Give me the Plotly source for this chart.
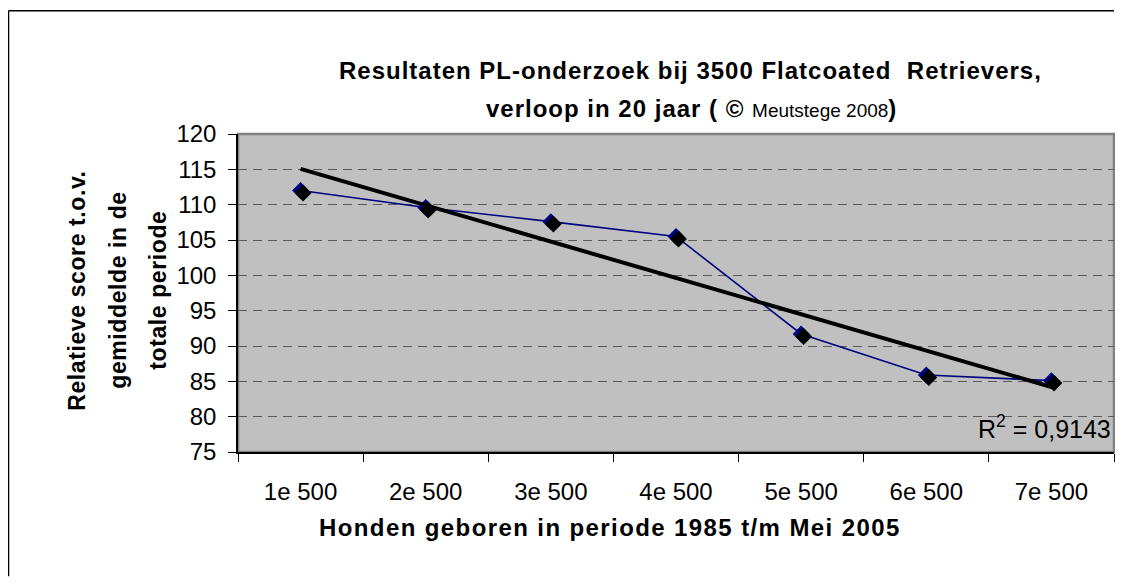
import numpy as np
import plotly.graph_objects as go

# ---- data ----
categories = ["1e 500", "2e 500", "3e 500", "4e 500", "5e 500", "6e 500", "7e 500"]
scores = [112.0, 109.6, 107.6, 105.5, 91.7, 85.9, 85.1]
r2_text = "R<sup>2</sup> = 0,9143"
y_ticks = [75, 80, 85, 90, 95, 100, 105, 110, 115, 120]

title_line1 = "Resultaten PL-onderzoek bij 3500 Flatcoated&nbsp; Retrievers,"
title_line2 = "verloop in 20 jaar ( © "
title_small = "Meutstege 2008"
x_title = "Honden geboren in periode 1985 t/m Mei 2005"
y_title_lines = ["Relatieve score t.o.v.", "gemiddelde in de", "totale periode"]

# linear trendline from data
xi = np.arange(1, len(scores) + 1)
slope, intercept = np.polyfit(xi, scores, 1)
trend = list(intercept + slope * xi)

FONT = "Liberation Sans, Arial, sans-serif"
OFF = 8  # page body margin
W, H = 1107, 570
L, R, T, B = 230, 1, 126, 125.5
pw, ph = W - L - R, H - T - B


def px_x(p):
    return (p - OFF - L) / pw


def px_y(p):
    return (H - B - (p - OFF)) / ph


fig = go.Figure()

# shadow of markers (offset axes)
fig.add_trace(go.Scatter(
    x=categories, y=scores, mode="markers", xaxis="x2", yaxis="y2",
    marker=dict(symbol="diamond", size=13, color="black"),
    showlegend=False, hoverinfo="skip"))

fig.add_trace(go.Scatter(
    x=categories, y=scores, mode="lines+markers",
    line=dict(color="#000080", width=1.6),
    marker=dict(symbol="diamond", size=13, color="#000080"),
    showlegend=False))

fig.add_trace(go.Scatter(
    x=categories, y=trend, mode="lines",
    line=dict(color="black", width=4),
    showlegend=False))

dx = 2.5 / (pw / 7)
dy = 2.5 / (ph / 45)

annotations = [
    dict(text="<b><span style='letter-spacing:1px'>" + title_line1 + "</span></b>",
         x=px_x(690), y=px_y(70),
         xref="paper", yref="paper", showarrow=False,
         font=dict(family=FONT, size=24), xanchor="center", yanchor="middle"),
    dict(text="<b><span style='letter-spacing:1px'>" + title_line2
         + "</span></b><span style='font-size:19px'>" + title_small
         + "</span><b>)</b>", x=px_x(691), y=px_y(108),
         xref="paper", yref="paper", showarrow=False,
         font=dict(family=FONT, size=24), xanchor="center", yanchor="middle"),
    dict(text="<b><span style='letter-spacing:1.4px'>" + x_title + "</span></b>",
         x=px_x(610), y=px_y(528),
         xref="paper", yref="paper", showarrow=False,
         font=dict(family=FONT, size=24), xanchor="center", yanchor="middle"),
    dict(text=r2_text, x=px_x(1113), y=px_y(427),
         xref="paper", yref="paper", showarrow=False,
         font=dict(family=FONT, size=25), xanchor="right", yanchor="middle"),
]
for line, xp in zip(y_title_lines, [77, 118, 158]):
    annotations.append(dict(
        text="<b><span style='letter-spacing:0.6px'>" + line + "</span></b>",
        x=px_x(xp), y=px_y(291),
        xref="paper", yref="paper", showarrow=False, textangle=-90,
        font=dict(family=FONT, size=23), xanchor="center", yanchor="middle"))

fig.update_layout(
    width=W, height=H,
    margin=dict(l=L, r=R, t=T, b=B, pad=0),
    paper_bgcolor="white",
    plot_bgcolor="#C0C0C0",
    font=dict(family=FONT, size=24, color="black"),
    xaxis=dict(
        type="category", range=[-0.5, 6.5], tickson="boundaries",
        showgrid=False, showline=True, linecolor="black", linewidth=1.5,
        ticks="outside", ticklen=8, tickcolor="black", tickwidth=1.2,
        ticklabelstandoff=17,
        tickfont=dict(family=FONT, size=24),
        zeroline=False, fixedrange=True,
    ),
    yaxis=dict(
        range=[75, 120], tickvals=y_ticks,
        showgrid=True, gridcolor="#5a5a5a", gridwidth=1, griddash="9px,6px",
        showline=True, linecolor="black", linewidth=1.5,
        ticks="outside", ticklen=8, tickcolor="black", tickwidth=1.2,
        ticklabelstandoff=7,
        tickfont=dict(family=FONT, size=24),
        zeroline=False, fixedrange=True,
    ),
    xaxis2=dict(type="category", overlaying="x", range=[-0.5 - dx, 6.5 - dx],
                visible=False, fixedrange=True),
    yaxis2=dict(overlaying="y", range=[75 + dy, 120 + dy], visible=False,
                fixedrange=True),
    shapes=[
        dict(type="rect", xref="x domain", yref="y domain", x0=0, x1=1, y0=0, y1=1,
             line=dict(color="#808080", width=2.5), layer="below"),
        dict(type="line", xref="paper", yref="paper",
             x0=px_x(8.5), x1=px_x(1114), y0=px_y(10.5), y1=px_y(10.5),
             line=dict(color="black", width=1.5)),
        dict(type="line", xref="paper", yref="paper",
             x0=px_x(8.5), x1=px_x(8.5), y0=px_y(10.5), y1=px_y(577),
             line=dict(color="black", width=1.5)),
    ],
    annotations=annotations,
)

fig.write_html("out.html", config={"displayModeBar": False})
